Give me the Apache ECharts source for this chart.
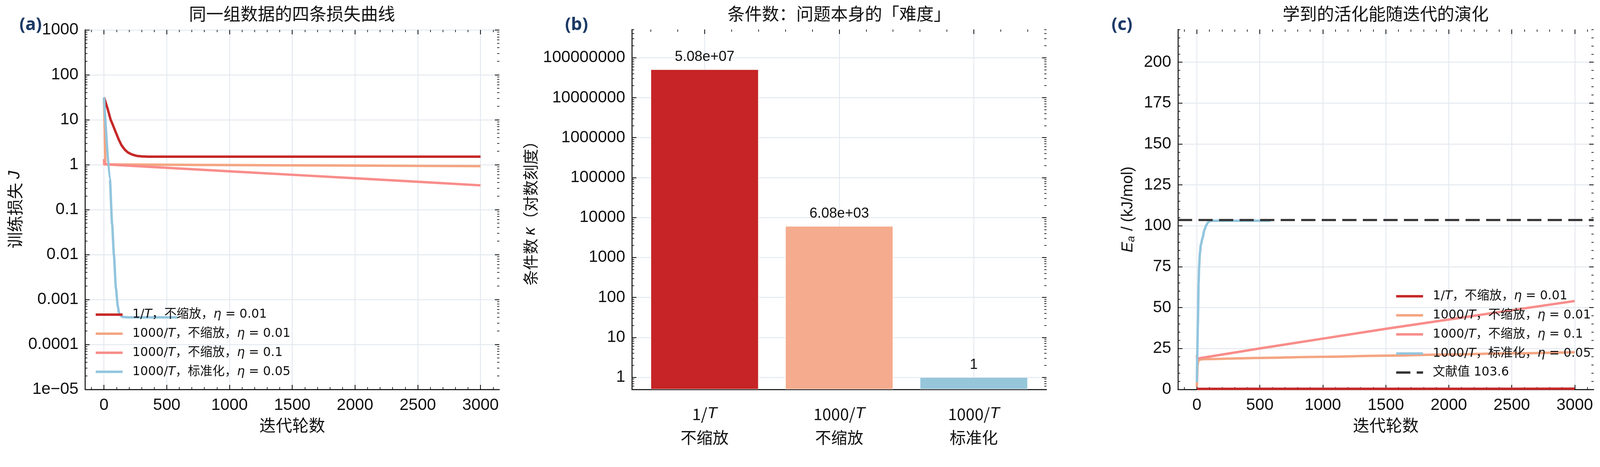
<!DOCTYPE html>
<html><head><meta charset="utf-8">
<script src="https://cdn.jsdelivr.net/npm/echarts@6/dist/echarts.min.js"></script>
<style>html,body{margin:0;padding:0;background:#fff;overflow:hidden;width:100%;height:100%}#c{width:100vw;height:100vh}</style>
</head><body><div id="c"></div>
<script>
// ---------------- data ----------------
const seriesNames = ['1/T，不缩放，η = 0.01', '1000/T，不缩放，η = 0.01', '1000/T，不缩放，η = 0.1', '1000/T，标准化，η = 0.05'];
const lineColors = ['#c62828', '#f4a582', '#f88d8a', '#92c5de'];
const litName = '文献值 103.6';
const litEa = 103.6;

// panel (a): training loss
const lossIterRed = [0, 29, 53, 68, 90, 118, 140, 166, 190, 216, 240, 266, 300, 350, 450, 1000, 2000, 3000];
const lossRed = [31.6, 17.6, 10, 8.0, 5.6, 3.6, 2.7, 2.15, 1.88, 1.72, 1.63, 1.56, 1.53, 1.51, 1.51, 1.51, 1.51, 1.51];
const lossIterOrange = [0, 11, 100, 500, 1000, 1500, 2000, 2500, 3000];
const lossOrange = [31.0, 1.02, 1.01, 0.995, 0.98, 0.965, 0.955, 0.94, 0.93];
const lossIterSalmon = [0, 2, 500, 1000, 1500, 2000, 2500, 3000];
const lossSalmon = [1.33, 1.02, 0.852, 0.713, 0.596, 0.498, 0.416, 0.347];
const lossIterBlue = [0, 47, 65, 79, 95, 110, 120, 135, 150, 200, 585];
const lossBlue = [31.6, 0.47, 0.047, 0.01, 0.0018, 0.00071, 0.0005, 0.00043, 0.000407, 0.0004, 0.0004];

// panel (b): condition numbers
const kappaLabels = ['1/T\n不缩放', '1000/T\n不缩放', '1000/T\n标准化'];
const kappaValues = [5.08e7, 6.08e3, 1.0];
const barColors = ['#c62426', '#f5ab8d', '#96c6da'];

// panel (c): activation energy
const eaIterRed = [0, 500, 1000, 1500, 2000, 2500, 3000];
const eaRed = [0.3, 0.31, 0.32, 0.33, 0.35, 0.36, 0.38];
const eaIterOrange = [0, 3, 6, 10, 18, 30, 50, 500, 1000, 1500, 2000, 2500, 3000];
const eaOrange = [1.6, 9, 15, 17.0, 17.9, 18.3, 18.45, 19.2, 19.9, 20.6, 21.3, 22.0, 22.7];
const eaIterSalmon = [0, 2, 13, 500, 1000, 1500, 2000, 2500, 3000];
const eaSalmon = [20.9, 19.0, 18.9, 25.0, 31.0, 37.0, 42.7, 48.4, 54.0];
const eaIterBlue = [0, 3, 8, 14, 18, 24, 32, 45, 60, 74, 90, 104, 130, 585];
const eaBlue = [4.3, 20, 40, 65, 75, 83, 88.5, 92.5, 97.5, 100.3, 102.2, 102.9, 103.1, 103.1];

// tick values
const xMajor = [0, 500, 1000, 1500, 2000, 2500, 3000];
const aYMajor = [1e-5, 1e-4, 1e-3, 1e-2, 1e-1, 1, 10, 100, 1000];
const bYMajor = [1, 10, 100, 1000, 10000, 100000, 1000000, 10000000, 100000000];
const bXMajor = [0, 1, 2];
const cYMajor = [0, 25, 50, 75, 100, 125, 150, 175, 200];

// ---------------- helpers ----------------
const S = Math.min(window.innerWidth / 4284, window.innerHeight / 1195);
const px = v => v * S;
const FONT = '"Liberation Sans", "Noto Sans CJK SC", sans-serif';
const CJKF = '"Noto Sans CJK SC", sans-serif';
const LEGF = '"DejaVu Sans", "Noto Sans CJK SC", sans-serif';
const GRIDC = '#e4e9f0';
const INK = '#111111';

function zip(xs, ys) { return xs.map((x, i) => [x, ys[i]]); }
function range(a, b, step) { const r = []; for (let v = a; v <= b + 1e-9; v += step) r.push(Math.round(v * 1e6) / 1e6); return r; }
function logMinor(eLo, eHi, lo, hi) {
  const r = [];
  for (let e = eLo; e <= eHi; e++) for (let k = 2; k <= 9; k++) {
    const v = Number((k * Math.pow(10, e)).toPrecision(3));
    if (v > lo && v < hi) r.push(v);
  }
  return r;
}
const xMinor = range(-100, 3100, 100).filter(v => v % 500 !== 0);
const aYMinor = logMinor(-5, 2, 1e-5, 1000);
const bYMin = 0.5, bYMax = Math.max(...kappaValues) * 10;
const bYMinor = logMinor(-1, 8, bYMin, bYMax);
const bXMinor = range(-0.4, 2.4, 0.2).filter(v => Math.abs(v - Math.round(v)) > 1e-6);
const cYMinor = range(0, 220, 5).filter(v => v % 25 !== 0);

function fmtLog(v) {
  const e = Math.round(Math.log10(v));
  if (e < -4) return '1e\u2212' + String(-e).padStart(2, '0');
  if (e < 0) return (Math.pow(10, e)).toFixed(-e);
  return String(Math.round(Math.pow(10, e)));
}
function fmtG3(v) {
  const e = Math.floor(Math.log10(Math.abs(v)));
  if (e >= 3 || e < -4) {
    const parts = v.toExponential(2).split('e');
    const sign = parts[1][0] === '-' ? '-' : '+';
    let d = parts[1].replace(/[+-]/, '');
    if (d.length < 2) d = '0' + d;
    return parts[0] + 'e' + sign + d;
  }
  return String(Number(v.toPrecision(3)));
}
function richName(n) { return n.replace('/T', '/{i|T}').replace('η', '{i|η}'); }

function tickAxis(grid, position, type, min, max, values, len) {
  return {
    type: type, gridIndex: grid, position: position, min: min, max: max, silent: true,
    axisLine: { show: false, onZero: false },
    axisLabel: { show: false },
    splitLine: { show: false },
    minorTick: { show: false },
    axisTick: { show: true, inside: true, length: px(len), customValues: values,
      lineStyle: { color: INK, width: px(len > 8 ? 2.2 : 1.8) } }
  };
}
function mainAxis(grid, position, type, min, max, values, fmt, extra) {
  const ax = {
    type: type, gridIndex: grid, position: position, min: min, max: max,
    axisLine: { show: true, onZero: false, lineStyle: { color: '#000', width: px(2.5) } },
    axisTick: { show: true, inside: true, length: px(12), customValues: values, lineStyle: { color: INK, width: px(2.2) } },
    axisLabel: { show: true, customValues: values, formatter: fmt, fontSize: px(44), fontFamily: FONT, color: INK,
      margin: px(position === 'left' ? 18 : 21) },
    splitLine: { show: true, lineStyle: { color: GRIDC, width: px(2.5) } },
    minorTick: { show: false }
  };
  return Object.assign(ax, extra || {});
}
const xName = { name: '迭代轮数', nameLocation: 'middle', nameGap: px(74), nameTextStyle: { fontSize: px(44), fontFamily: CJKF, color: INK } };

// ---------------- axes ----------------
const xAxes = [
  // (a)
  mainAxis(0, 'bottom', 'value', -150, 3150, xMajor, v => String(v), xName),
  tickAxis(0, 'bottom', 'value', -150, 3150, xMinor, 6),
  tickAxis(0, 'top', 'value', -150, 3150, xMajor, 12),
  tickAxis(0, 'top', 'value', -150, 3150, xMinor, 6),
  // (b)
  mainAxis(1, 'bottom', 'value', -0.54, 2.54, bXMajor, v => richName(kappaLabels[Math.round(v)]), {}),
  tickAxis(1, 'top', 'value', -0.54, 2.54, bXMajor, 12),
  tickAxis(1, 'top', 'value', -0.54, 2.54, bXMinor, 6),
  // (c)
  mainAxis(2, 'bottom', 'value', -150, 3150, xMajor, v => String(v), xName),
  tickAxis(2, 'bottom', 'value', -150, 3150, xMinor, 6),
  tickAxis(2, 'top', 'value', -150, 3150, xMajor, 12),
  tickAxis(2, 'top', 'value', -150, 3150, xMinor, 6)
];
// (b) bottom axis: no ticks, two-line labels
xAxes[4].axisTick.show = false;
xAxes[4].axisLabel.margin = px(34);
xAxes[4].axisLabel.lineHeight = px(63);
xAxes[4].axisLabel.fontFamily = CJKF;
xAxes[4].axisLabel.fontSize = px(43);
xAxes[4].axisLabel.rich = { i: { fontStyle: 'italic', fontSize: px(43), fontFamily: FONT, lineHeight: px(63), color: INK } };

const yAxes = [
  // (a)
  mainAxis(0, 'left', 'log', 1e-5, 1000, aYMajor, fmtLog,
    { logBase: 10, name: '训练损失 {i|J}', nameLocation: 'middle', nameGap: px(166),
      nameTextStyle: { fontSize: px(44), fontFamily: CJKF, color: INK, rich: { i: { fontStyle: 'italic', fontSize: px(44), fontFamily: FONT, color: INK } } } }),
  tickAxis(0, 'left', 'log', 1e-5, 1000, aYMinor, 6),
  tickAxis(0, 'right', 'log', 1e-5, 1000, aYMajor, 12),
  tickAxis(0, 'right', 'log', 1e-5, 1000, aYMinor, 6),
  // (b)
  mainAxis(1, 'left', 'log', bYMin, bYMax, bYMajor, v => String(Math.round(v)),
    { logBase: 10, startValue: bYMin, name: '条件数 {i|κ}（对数刻度）', nameLocation: 'middle', nameGap: px(251),
      nameTextStyle: { fontSize: px(42), fontFamily: CJKF, color: INK, rich: { i: { fontStyle: 'italic', fontSize: px(42), fontFamily: FONT, color: INK } } } }),
  tickAxis(1, 'left', 'log', bYMin, bYMax, bYMinor, 6),
  tickAxis(1, 'right', 'log', bYMin, bYMax, bYMajor, 12),
  tickAxis(1, 'right', 'log', bYMin, bYMax, bYMinor, 6),
  // (c)
  mainAxis(2, 'left', 'value', 0, 220, cYMajor, v => String(v),
    { name: '{i|E}{s|a} / (kJ/mol)', nameLocation: 'middle', nameGap: px(110),
      nameTextStyle: { fontSize: px(42), fontFamily: FONT, color: INK,
        rich: { i: { fontStyle: 'italic', fontSize: px(42), fontFamily: FONT, color: INK },
                s: { fontStyle: 'italic', fontSize: px(29), fontFamily: FONT, color: INK, padding: [px(18), px(2), 0, 0] } } } }),
  tickAxis(2, 'left', 'value', 0, 220, cYMinor, 6),
  tickAxis(2, 'right', 'value', 0, 220, cYMajor, 12),
  tickAxis(2, 'right', 'value', 0, 220, cYMinor, 6)
];

// ---------------- series ----------------
function lineSeries(name, color, xi, yi, data, smooth) {
  return {
    type: 'line', name: name, xAxisIndex: xi, yAxisIndex: yi, data: data, symbol: 'none',
    smooth: smooth ? 0.2 : false, smoothMonotone: 'x',
    lineStyle: { color: color, width: px(6.5), cap: 'butt', join: 'round' }, itemStyle: { color: color },
    z: 3
  };
}
const dashStyle = { color: '#333333', width: px(6), type: [px(38), px(17)] };
const series = [
  lineSeries(seriesNames[0], lineColors[0], 0, 0, zip(lossIterRed, lossRed), false),
  lineSeries(seriesNames[1], lineColors[1], 0, 0, zip(lossIterOrange, lossOrange), false),
  lineSeries(seriesNames[2], lineColors[2], 0, 0, zip(lossIterSalmon, lossSalmon), false),
  lineSeries(seriesNames[3], lineColors[3], 0, 0, zip(lossIterBlue, lossBlue), true),
  {
    type: 'bar', xAxisIndex: 4, yAxisIndex: 4, barWidth: '80%',
    data: kappaValues.map((v, i) => ({ value: [i, v], itemStyle: { color: barColors[i] } })),
    itemStyle: { borderColor: '#ffffff', borderWidth: px(1) },
    label: { show: true, position: 'top', distance: px(14), formatter: p => fmtG3(p.value[1]),
      fontSize: px(38), fontFamily: FONT, color: INK }
  },
  lineSeries(seriesNames[0], lineColors[0], 7, 8, zip(eaIterRed, eaRed), false),
  lineSeries(seriesNames[1], lineColors[1], 7, 8, zip(eaIterOrange, eaOrange), true),
  lineSeries(seriesNames[2], lineColors[2], 7, 8, zip(eaIterSalmon, eaSalmon), false),
  lineSeries(seriesNames[3], lineColors[3], 7, 8, zip(eaIterBlue, eaBlue), true),
  {
    type: 'line', name: litName, xAxisIndex: 7, yAxisIndex: 8, data: [], symbol: 'none',
    lineStyle: dashStyle, itemStyle: { color: '#333333' },
    markLine: { silent: true, symbol: ['none', 'none'], label: { show: false }, animation: false,
      lineStyle: dashStyle, data: [{ yAxis: litEa }] },
    z: 4
  }
];

const legendText = { fontSize: px(33), fontFamily: LEGF, color: INK, lineHeight: px(36),
  rich: { i: { fontStyle: 'italic', fontSize: px(33), fontFamily: LEGF, color: INK, lineHeight: px(36) } } };
const legendCommon = {
  orient: 'vertical', itemWidth: px(72), itemHeight: px(14), itemGap: px(15), selectedMode: false, padding: 0,
  textStyle: legendText, formatter: n => '\u00a0\u00a0' + richName(n),
  itemStyle: { opacity: 0, borderWidth: 0 },
  lineStyle: { width: px(6.5) }
};

const titleStyle = { fontSize: px(46), fontFamily: CJKF, fill: INK, align: 'center', verticalAlign: 'middle' };
const tagStyle = { fontSize: px(47), fontWeight: 'bold', fontFamily: '"Noto Sans", sans-serif', fill: '#1c3a66', align: 'left', verticalAlign: 'middle' };

const option = {
  animation: false,
  backgroundColor: '#ffffff',
  grid: [
    { left: px(228), top: px(80), width: px(1109), height: px(962) },
    { left: px(1692), top: px(79), width: px(1110), height: px(963) },
    { left: px(3154), top: px(79), width: px(1113), height: px(963) }
  ],
  xAxis: xAxes,
  yAxis: yAxes,
  legend: [
    Object.assign({ data: seriesNames, left: px(253), top: px(824) }, legendCommon),
    Object.assign({ data: seriesNames.concat([litName]), left: px(3735), top: px(775) }, legendCommon)
  ],
  graphic: [
    { type: 'text', x: px(782), y: px(37), style: Object.assign({ text: '同一组数据的四条损失曲线' }, titleStyle) },
    { type: 'text', x: px(2247), y: px(37), style: Object.assign({ text: '条件数：问题本身的「难度」' }, titleStyle) },
    { type: 'text', x: px(3710), y: px(37), style: Object.assign({ text: '学到的活化能随迭代的演化' }, titleStyle) },
    { type: 'text', x: px(52), y: px(67), style: Object.assign({ text: '(a)' }, tagStyle) },
    { type: 'text', x: px(1513), y: px(67), style: Object.assign({ text: '(b)' }, tagStyle) },
    { type: 'text', x: px(2976), y: px(67), style: Object.assign({ text: '(c)' }, tagStyle) }
  ],
  series: series
};

const chart = echarts.init(document.getElementById('c'), null, { renderer: 'canvas' });
chart.setOption(option);
</script>
</body></html>
